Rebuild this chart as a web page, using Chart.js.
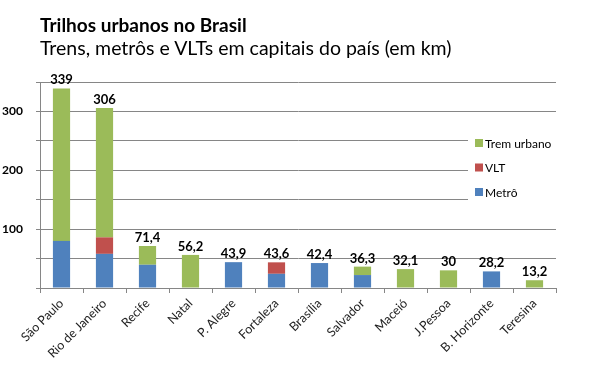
<!DOCTYPE html>
<html>
<head>
<meta charset="utf-8">
<script src="https://cdn.jsdelivr.net/npm/chart.js@4"></script>
<style>
body{margin:0;background:#fff}
#wrap{position:relative;width:596px;height:368px}
#t1{position:absolute;left:40px;top:13px;font:bold 19px Lato,sans-serif;color:#000}
#t2{position:absolute;left:40px;top:36px;font:19.5px Lato,sans-serif;color:#000}
canvas{position:absolute;left:0;top:0}
</style>
</head>
<body>
<div id="wrap">
<canvas id="grafico" width="596" height="368"></canvas>
<div id="t1">Trilhos urbanos no Brasil</div>
<div id="t2">Trens, metrôs e VLTs em capitais do país (em km)</div>
</div>
<script>
const cidades=['São Paulo','Rio de Janeiro','Recife','Natal','P. Alegre','Fortaleza','Brasília','Salvador','Maceió','J.Pessoa','B. Horizonte','Teresina']
const metro=[80,58,39.5,0,43.9,24.1,42.4,22,0,0,28.2,0]
const vlt=[0,28,0,0,0,19.5,0,0,0,0,0,0]
const trem=[259,220,31.9,56.2,0,0,0,14.3,32.1,30,0,13.2]
const yTicks=[100,200,300]

const corGrid='#868686'
const fonte='Lato, sans-serif'

// totais em cima das barras
const totais={
  id:'totais',
  afterDatasetsDraw(chart){
    const ctx=chart.ctx
    const xs=chart.scales.x, ys=chart.scales.y
    ctx.save()
    ctx.font='bold 13px '+fonte
    ctx.fillStyle='#000'
    ctx.textAlign='center'
    ctx.textBaseline='alphabetic'
    cidades.forEach((c,i)=>{
      const tot=Math.round((metro[i]+vlt[i]+trem[i])*10)/10
      ctx.fillText(String(tot).replace('.',','),xs.getPixelForValue(i),ys.getPixelForValue(tot)-4)
    })
    ctx.restore()
  }
}

// legenda dentro da area do grafico
const legenda={
  id:'legenda',
  afterDraw(chart){
    const ctx=chart.ctx
    ctx.save()
    ctx.fillStyle='#fff'
    ctx.fillRect(468,121,88,92)
    ctx.font='12px '+fonte
    ctx.textBaseline='middle'
    const ds=chart.data.datasets.slice().reverse()
    ds.forEach((d,i)=>{
      const y=143+i*24.5
      ctx.fillStyle=d.backgroundColor
      ctx.fillRect(475,y-4,8,8)
      ctx.fillStyle='#000'
      ctx.fillText(d.label,485,y+1)
    })
    ctx.restore()
  }
}

new Chart(document.querySelector('#grafico'),{
  type:'bar',
  data:{
    labels:cidades,
    datasets:[
      {label:'Metrô',data:metro,backgroundColor:'#4F81BD'},
      {label:'VLT',data:vlt,backgroundColor:'#C0504D'},
      {label:'Trem urbano',data:trem,backgroundColor:'#9BBB59'}
    ]
  },
  options:{
    responsive:false,
    animation:false,
    categoryPercentage:1,
    barPercentage:0.4,
    layout:{padding:{left:0,top:82,right:40,bottom:0}},
    plugins:{legend:{display:false},title:{display:false},tooltip:{enabled:false}},
    scales:{
      x:{
        stacked:true,
        afterFit:s=>{s.height=80},
        grid:{offset:true,drawOnChartArea:false,drawTicks:true,tickLength:5,color:corGrid},
        border:{display:true,color:corGrid},
        ticks:{maxRotation:45,minRotation:45,padding:3,color:'#222',font:{family:fonte,size:12.5}}
      },
      y:{
        stacked:true,
        min:0,max:350,
        afterFit:s=>{s.width=40},
        grid:{color:corGrid,tickLength:4},
        border:{display:true,color:corGrid},
        ticks:{stepSize:50,padding:13,color:'#000',font:{family:fonte,size:12,weight:'bold'},
          callback:v=>yTicks.includes(v)?String(v):''}
      }
    }
  },
  plugins:[totais,legenda]
})
</script>
</body>
</html>
